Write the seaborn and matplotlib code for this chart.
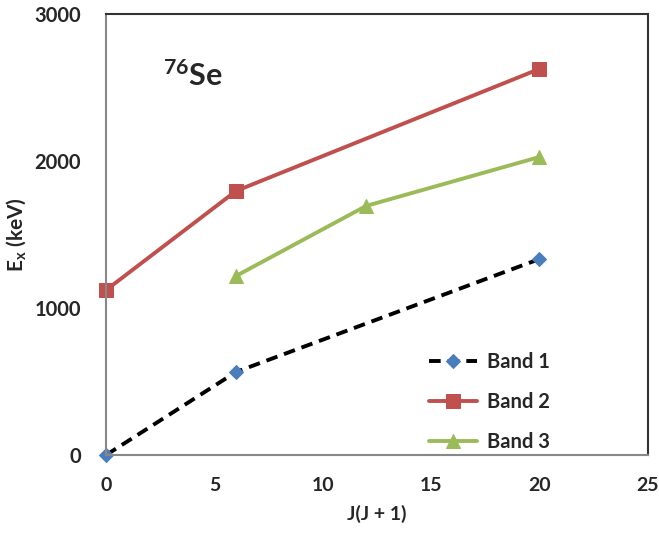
import matplotlib
matplotlib.use("Agg")
import matplotlib.pyplot as plt
import seaborn as sns
import pandas as pd

band1_x = [0, 6, 20]
band1_y = [0, 565, 1333]
band2_x = [0, 6, 20]
band2_y = [1122, 1796, 2626]
band3_x = [6, 12, 20]
band3_y = [1218, 1694, 2027]
labels = ["Band 1", "Band 2", "Band 3"]

sns.set_theme(style="white")
plt.rcParams['font.family'] = ['Lato', 'DejaVu Sans']
plt.rcParams['font.weight'] = 'bold'
plt.rcParams['mathtext.fontset'] = 'custom'
plt.rcParams['mathtext.rm'] = 'Lato:bold'
plt.rcParams['mathtext.bf'] = 'Lato:bold'
plt.rcParams['mathtext.it'] = 'Lato:bold'

fig = plt.figure(figsize=(6.59, 5.35), dpi=100)
ax = fig.add_axes([0.161, 0.1495, 0.822, 0.8245])

d1 = pd.DataFrame({"x": band1_x, "y": band1_y})
d2 = pd.DataFrame({"x": band2_x, "y": band2_y})
d3 = pd.DataFrame({"x": band3_x, "y": band3_y})

sns.lineplot(data=d1, x="x", y="y", ax=ax, color="black", linestyle=(0, (3, 1.8)), lw=2.8,
             marker="D", markersize=7, markerfacecolor="#4a7ebb", markeredgecolor="#4a7ebb",
             label=labels[0])
sns.lineplot(data=d2, x="x", y="y", ax=ax, color="#c0504d", lw=2.8,
             marker="s", markersize=10, markerfacecolor="#c0504d", markeredgecolor="#c0504d",
             label=labels[1])
sns.lineplot(data=d3, x="x", y="y", ax=ax, color="#9bbb59", lw=2.8,
             marker="^", markersize=10, markerfacecolor="#9bbb59", markeredgecolor="#9bbb59",
             label=labels[2])

ax.set_xlim(0, 25)
ax.set_ylim(0, 3000)
ax.set_xticks([0, 5, 10, 15, 20, 25])
ax.set_yticks([0, 1000, 2000, 3000])
ax.tick_params(axis='x', direction='out', length=6, color='#888888', labelsize=14, pad=10)
ax.tick_params(axis='y', direction='in', length=5, color='#888888', labelsize=14.5, pad=18)
for lab in ax.get_xticklabels() + ax.get_yticklabels():
    lab.set_fontweight('bold')
for side in ['left', 'bottom']:
    ax.spines[side].set_color('#888888')
    ax.spines[side].set_linewidth(1.5)
for side in ['top', 'right']:
    ax.spines[side].set_color('#333333')
    ax.spines[side].set_linewidth(1.5)
ax.spines['top'].set_visible(True)
ax.spines['right'].set_visible(True)
for s in ax.spines.values():
    s.set_clip_on(False)
for line in ax.get_lines():
    line.set_clip_on(False)

ax.set_xlabel("J(J + 1)", fontsize=14, fontweight='bold', labelpad=8)
ax.set_ylabel("E$_{x}$ (keV)", fontsize=15, fontweight='bold', labelpad=5)

ax.text(0.105, 0.86, "$^{76}$Se", transform=ax.transAxes, fontsize=22, fontweight='bold',
        ha='left', va='center')

leg = ax.legend(loc='lower right', bbox_to_anchor=(0.852, -0.035), frameon=False,
                fontsize=14.5, handlelength=2.4, labelspacing=1.0, handletextpad=0.45)
for t in leg.get_texts():
    t.set_fontweight('bold')

fig.savefig("out.png", dpi=100)
